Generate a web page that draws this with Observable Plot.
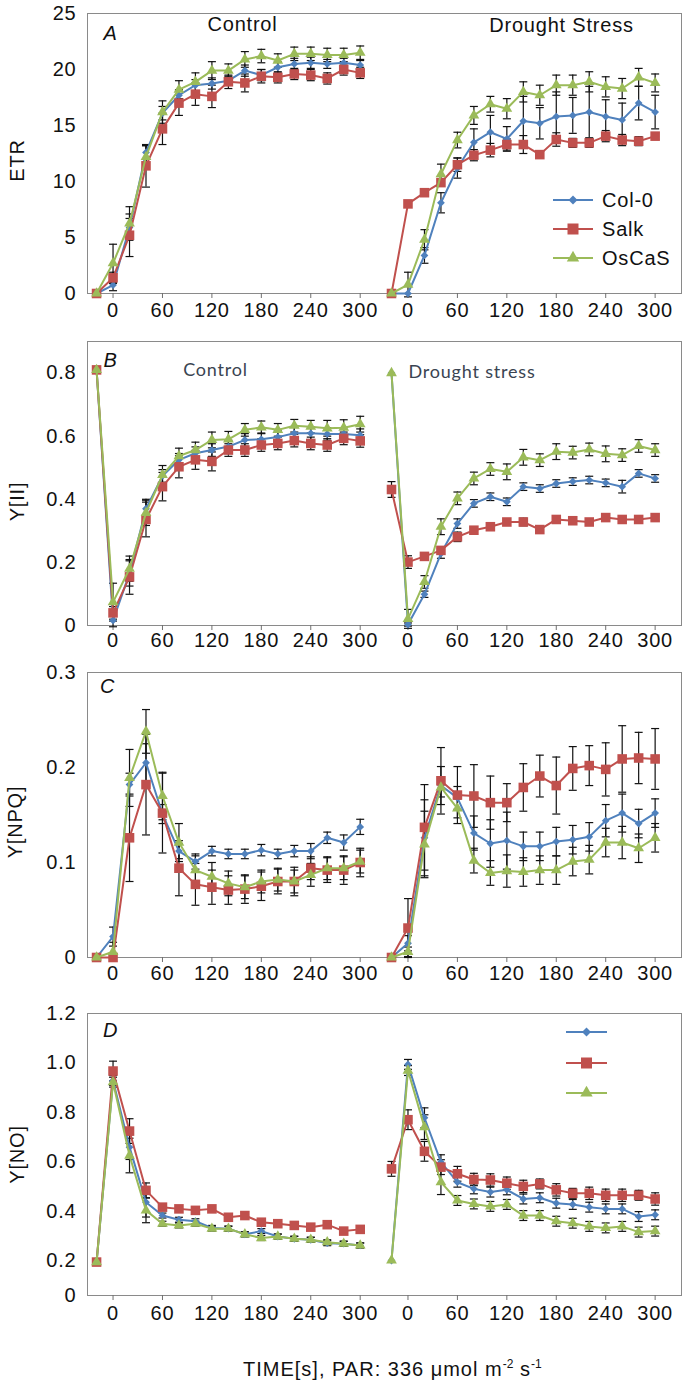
<!DOCTYPE html>
<html>
<head>
<meta charset="utf-8">
<script src="https://cdn.jsdelivr.net/npm/d3@7"></script>
<script src="https://cdn.jsdelivr.net/npm/@observablehq/plot@0.6"></script>
<style>
  html, body { margin: 0; padding: 0; background: #fff; }
  #root { position: relative; width: 686px; height: 1386px; font-family: "Liberation Sans", Arial, sans-serif; }
  #root svg { position: absolute; left: 0; }
  #caption { position: absolute; left: 243px; top: 1357px; font-size: 20px; letter-spacing: 1px; color: #111; white-space: nowrap; }
  #caption sup { font-size: 12px; letter-spacing: 0; }
</style>
</head>
<body>
<div id="root"></div>
<script>
// ---------------- data ----------------
const times = [-20, 0, 20, 40, 60, 80, 100, 120, 140, 160, 180, 200, 220, 240, 260, 280, 300];
const seriesNames = ["Col-0", "Salk", "OsCaS"];
const xTickLabels = [0, 60, 120, 180, 240, 300];

// A: ETR
const etrCtrlCol  = [0, 0.75, 5.9, 12.6, 16.1, 17.7, 18.6, 18.75, 19.0, 19.9, 19.5, 20.2, 20.5, 20.6, 20.5, 20.6, 20.4];
const etrCtrlSalk = [0, 1.4, 5.2, 11.4, 14.7, 17.0, 17.8, 17.6, 18.9, 18.8, 19.4, 19.3, 19.6, 19.5, 19.2, 20.0, 19.7];
const etrCtrlOs   = [0, 2.7, 6.25, 12.2, 16.2, 18.2, 18.9, 19.9, 19.9, 20.9, 21.2, 20.8, 21.4, 21.4, 21.3, 21.3, 21.5];
const etrCtrlColErr  = [0, 0.5, 0.8, 0.6, 0.6, 0.5, 0.5, 0.5, 0.4, 0.5, 0.5, 0.5, 0.5, 0.5, 0.4, 0.4, 0.4];
const etrCtrlSalkErr = [0, 0.5, 1.9, 1.9, 1.4, 1.1, 1.0, 1.0, 0.6, 0.8, 0.6, 0.5, 0.5, 0.5, 0.5, 0.5, 0.5];
const etrCtrlOsErr   = [0, 1.7, 1.5, 1.0, 1.0, 0.8, 0.8, 0.8, 0.6, 0.7, 0.6, 0.6, 0.6, 0.6, 0.6, 0.6, 0.6];
const etrDrCol  = [0, 0, 3.4, 8.1, 11.2, 13.5, 14.4, 13.8, 15.4, 15.2, 15.8, 15.9, 16.2, 15.8, 15.5, 17.0, 16.2];
const etrDrSalk = [0, 8.0, 9.0, 9.9, 11.5, 12.35, 12.8, 13.3, 13.3, 12.4, 13.75, 13.45, 13.45, 14.05, 13.7, 13.6, 14.05];
const etrDrOs   = [0, 0.8, 4.8, 10.65, 13.7, 15.9, 16.9, 16.5, 18.0, 17.7, 18.6, 18.6, 18.9, 18.45, 18.3, 19.3, 18.8];
const etrDrColErr  = [0, 0, 0.7, 0.9, 0.9, 1.2, 1.5, 1.1, 2.2, 1.4, 2.2, 1.6, 2.3, 1.5, 1.5, 1.5, 1.5];
const etrDrSalkErr = [0, 0.3, 0.3, 0.3, 0.6, 0.5, 0.6, 0.5, 0.8, 0.3, 0.6, 0.4, 0.4, 0.5, 0.5, 0.4, 0.3];
const etrDrOsErr   = [0, 1.1, 0.9, 0.9, 0.7, 0.8, 0.7, 0.9, 0.9, 0.9, 0.9, 0.9, 0.9, 0.9, 0.9, 0.8, 0.8];

// B: Y[II]
const y2CtrlCol  = [0.81, 0.016, 0.165, 0.37, 0.474, 0.525, 0.546, 0.556, 0.567, 0.588, 0.59, 0.597, 0.609, 0.609, 0.607, 0.607, 0.603];
const y2CtrlSalk = [0.81, 0.04, 0.154, 0.336, 0.44, 0.503, 0.525, 0.52, 0.556, 0.556, 0.572, 0.577, 0.586, 0.577, 0.572, 0.593, 0.585];
const y2CtrlOs   = [0.81, 0.074, 0.18, 0.357, 0.477, 0.537, 0.556, 0.588, 0.59, 0.62, 0.628, 0.62, 0.633, 0.63, 0.625, 0.627, 0.638];
const y2CtrlColErr  = [0, 0.02, 0.04, 0.03, 0.02, 0.02, 0.02, 0.02, 0.02, 0.02, 0.02, 0.02, 0.02, 0.02, 0.02, 0.02, 0.02];
const y2CtrlSalkErr = [0, 0.02, 0.055, 0.055, 0.045, 0.035, 0.03, 0.03, 0.02, 0.02, 0.02, 0.02, 0.02, 0.02, 0.02, 0.02, 0.02];
const y2CtrlOsErr   = [0, 0.06, 0.04, 0.04, 0.03, 0.025, 0.025, 0.025, 0.025, 0.02, 0.02, 0.02, 0.02, 0.02, 0.025, 0.025, 0.025];
const y2DrCol  = [0.8, 0.003, 0.099, 0.228, 0.323, 0.387, 0.408, 0.392, 0.44, 0.434, 0.45, 0.456, 0.461, 0.452, 0.44, 0.482, 0.466];
const y2DrSalk = [0.431, 0.201, 0.219, 0.238, 0.281, 0.302, 0.313, 0.328, 0.328, 0.304, 0.336, 0.332, 0.328, 0.342, 0.336, 0.336, 0.342];
const y2DrOs   = [0.8, 0.021, 0.138, 0.313, 0.403, 0.466, 0.496, 0.487, 0.533, 0.524, 0.551, 0.548, 0.558, 0.544, 0.54, 0.569, 0.556];
const y2DrColErr  = [0, 0.005, 0.01, 0.015, 0.015, 0.012, 0.012, 0.012, 0.012, 0.012, 0.012, 0.012, 0.012, 0.012, 0.02, 0.012, 0.012];
const y2DrSalkErr = [0.025, 0.02, 0.005, 0.005, 0.015, 0.01, 0.01, 0.01, 0.012, 0.01, 0.012, 0.008, 0.008, 0.012, 0.008, 0.008, 0.008];
const y2DrOsErr   = [0, 0.03, 0.02, 0.025, 0.02, 0.02, 0.02, 0.025, 0.025, 0.02, 0.025, 0.02, 0.02, 0.025, 0.02, 0.02, 0.02];

// C: Y[NPQ]
const npqCtrlCol  = [0, 0.022, 0.182, 0.205, 0.151, 0.112, 0.101, 0.112, 0.109, 0.109, 0.113, 0.109, 0.112, 0.112, 0.126, 0.121, 0.1375];
const npqCtrlSalk = [0, 0, 0.126, 0.182, 0.152, 0.094, 0.077, 0.074, 0.071, 0.072, 0.075, 0.08, 0.08, 0.094, 0.092, 0.092, 0.1];
const npqCtrlOs   = [0, 0.006, 0.189, 0.238, 0.17, 0.121, 0.092, 0.085, 0.078, 0.074, 0.08, 0.082, 0.08, 0.087, 0.094, 0.094, 0.101];
const npqCtrlColErr  = [0, 0.01, 0.012, 0.02, 0.01, 0.008, 0.008, 0.005, 0.005, 0.005, 0.006, 0.005, 0.006, 0.008, 0.006, 0.008, 0.008];
const npqCtrlSalkErr = [0, 0, 0.046, 0.053, 0.042, 0.029, 0.022, 0.018, 0.015, 0.015, 0.015, 0.013, 0.015, 0.012, 0.013, 0.015, 0.015];
const npqCtrlOsErr   = [0, 0.01, 0.03, 0.023, 0.025, 0.02, 0.015, 0.015, 0.013, 0.012, 0.012, 0.012, 0.012, 0.012, 0.012, 0.012, 0.012];
const npqDrCol  = [0, 0.015, 0.126, 0.181, 0.168, 0.131, 0.12, 0.123, 0.117, 0.117, 0.122, 0.124, 0.127, 0.144, 0.152, 0.141, 0.152];
const npqDrSalk = [0, 0.031, 0.137, 0.186, 0.171, 0.17, 0.163, 0.163, 0.179, 0.191, 0.181, 0.199, 0.202, 0.198, 0.209, 0.21, 0.209];
const npqDrOs   = [0, 0.006, 0.119, 0.179, 0.157, 0.102, 0.089, 0.091, 0.09, 0.092, 0.092, 0.101, 0.103, 0.121, 0.121, 0.115, 0.126];
const npqDrColErr  = [0, 0.008, 0.04, 0.02, 0.012, 0.018, 0.025, 0.03, 0.015, 0.015, 0.015, 0.015, 0.015, 0.017, 0.02, 0.015, 0.015];
const npqDrSalkErr = [0, 0.031, 0.045, 0.035, 0.03, 0.033, 0.028, 0.02, 0.025, 0.022, 0.03, 0.023, 0.021, 0.028, 0.035, 0.027, 0.032];
const npqDrOsErr   = [0, 0.005, 0.035, 0.01, 0.01, 0.013, 0.013, 0.017, 0.015, 0.015, 0.015, 0.015, 0.015, 0.015, 0.017, 0.015, 0.015];

// D: Y[NO]
const noCtrlCol  = [0.191, 0.929, 0.659, 0.436, 0.382, 0.365, 0.359, 0.332, 0.329, 0.306, 0.319, 0.297, 0.288, 0.284, 0.270, 0.268, 0.261];
const noCtrlSalk = [0.191, 0.967, 0.724, 0.484, 0.416, 0.409, 0.403, 0.409, 0.375, 0.382, 0.355, 0.349, 0.342, 0.335, 0.345, 0.319, 0.326];
const noCtrlOs   = [0.191, 0.922, 0.625, 0.403, 0.349, 0.342, 0.349, 0.329, 0.329, 0.306, 0.291, 0.297, 0.288, 0.284, 0.274, 0.268, 0.261];
const noCtrlColErr  = [0, 0.02, 0.05, 0.06, 0.01, 0.01, 0.01, 0.01, 0.01, 0.01, 0.01, 0.01, 0.01, 0.01, 0.01, 0.01, 0.01];
const noCtrlSalkErr = [0, 0.04, 0.05, 0.03, 0.01, 0.01, 0.01, 0.01, 0.01, 0.01, 0.01, 0.01, 0.01, 0.01, 0.01, 0.01, 0.01];
const noCtrlOsErr   = [0, 0.02, 0.07, 0.05, 0.01, 0.01, 0.01, 0.01, 0.01, 0.01, 0.01, 0.01, 0.01, 0.01, 0.01, 0.01, 0.01];
const noDrCol  = [0.2, 0.994, 0.778, 0.598, 0.517, 0.490, 0.477, 0.486, 0.449, 0.454, 0.432, 0.427, 0.416, 0.409, 0.409, 0.378, 0.385];
const noDrSalk = [0.571, 0.770, 0.642, 0.578, 0.551, 0.528, 0.526, 0.513, 0.500, 0.510, 0.486, 0.472, 0.472, 0.464, 0.464, 0.464, 0.449];
const noDrOs   = [0.2, 0.969, 0.740, 0.517, 0.443, 0.429, 0.419, 0.427, 0.382, 0.382, 0.359, 0.351, 0.338, 0.332, 0.338, 0.315, 0.319];
const noDrColErr  = [0, 0.02, 0.04, 0.03, 0.02, 0.02, 0.02, 0.02, 0.02, 0.02, 0.02, 0.02, 0.02, 0.02, 0.02, 0.02, 0.02];
const noDrSalkErr = [0.03, 0.04, 0.04, 0.03, 0.03, 0.025, 0.025, 0.025, 0.025, 0.02, 0.025, 0.02, 0.025, 0.025, 0.025, 0.02, 0.025];
const noDrOsErr   = [0, 0.02, 0.05, 0.05, 0.02, 0.02, 0.02, 0.02, 0.02, 0.02, 0.02, 0.02, 0.02, 0.02, 0.02, 0.02, 0.02];

// ---------------- styles / layout ----------------
const OFFSET = 358;              // drought block shift on the shared time axis
const colors = ["#4F81BD", "#C0504D", "#9BBB59"];
const symbols = ["diamond2", "square", "triangle"];
const radii = [3.5, 5.4, 4.0];
const FONT = "Liberation Sans, Arial, sans-serif";
const capSymbol = { draw(ctx, size) { const w = Math.sqrt(size / Math.PI); ctx.moveTo(-w, 0); ctx.lineTo(w, 0); } };
const decFmt = d => d === 0 ? "0" : d3.format(".1f")(d);
// panel D's original axis has a compressed first interval (0–0.2)
const LOW = 35 / 247;
const breakY = v => v <= 0.2 ? v * LOW / 0.2 : LOW + (v - 0.2);
const ident = v => v;

const panels = [
  { letter: "A", top: 0, height: 330, mt: 13, mb: 37, y: { domain: [0, 25] }, ticks: [0, 5, 10, 15, 20, 25], fmt: d => d, tpos: ident,
    label: "ETR", labelDx: -70, labelDy: 7, pad: 4, letterPos: [23, 20],
    ctrl: [etrCtrlCol, etrCtrlSalk, etrCtrlOs], ctrlErr: [etrCtrlColErr, etrCtrlSalkErr, etrCtrlOsErr],
    dr: [etrDrCol, etrDrSalk, etrDrOs], drErr: [etrDrColErr, etrDrSalkErr, etrDrOsErr] },
  { letter: "B", top: 330, height: 335, mt: 11, mb: 40, y: { domain: [0, 0.9] }, ticks: [0, 0.2, 0.4, 0.6, 0.8], fmt: decFmt, tpos: ident,
    label: "Y[II]", labelDx: -70, labelDy: 18, pad: 2, letterPos: [23, 19],
    ctrl: [y2CtrlCol, y2CtrlSalk, y2CtrlOs], ctrlErr: [y2CtrlColErr, y2CtrlSalkErr, y2CtrlOsErr],
    dr: [y2DrCol, y2DrSalk, y2DrOs], drErr: [y2DrColErr, y2DrSalkErr, y2DrOsErr] },
  { letter: "C", top: 665, height: 335, mt: 7, mb: 43, y: { domain: [0, 0.3] }, ticks: [0, 0.1, 0.2, 0.3], fmt: decFmt, tpos: ident,
    label: "Y[NPQ]", labelDx: -72, labelDy: 7, pad: 3, letterPos: [20, 14],
    ctrl: [npqCtrlCol, npqCtrlSalk, npqCtrlOs], ctrlErr: [npqCtrlColErr, npqCtrlSalkErr, npqCtrlOsErr],
    dr: [npqDrCol, npqDrSalk, npqDrOs], drErr: [npqDrColErr, npqDrSalkErr, npqDrOsErr] },
  { letter: "D", top: 1000, height: 335, mt: 13, mb: 40, y: { transform: breakY, domain: [0, breakY(1.2)] }, ticks: [0, 0.2, 0.4, 0.6, 0.8, 1.0, 1.2], fmt: decFmt, tpos: breakY,
    label: "Y[NO]", labelDx: -70, labelDy: 0, pad: 5, letterPos: [23, 17],
    ctrl: [noCtrlCol, noCtrlSalk, noCtrlOs], ctrlErr: [noCtrlColErr, noCtrlSalkErr, noCtrlOsErr],
    dr: [noDrCol, noDrSalk, noDrOs], drErr: [noDrColErr, noDrSalkErr, noDrOsErr] }
];

const xTicks = xTickLabels.concat(xTickLabels.map(t => t + OFFSET));
const root = document.getElementById("root");

for (const p of panels) {
  const rows = [];
  [[p.ctrl, p.ctrlErr, 0], [p.dr, p.drErr, 1]].forEach(([vals, errs, cond]) => {
    vals.forEach((arr, s) => arr.forEach((v, i) => rows.push({
      x: times[i] + cond * OFFSET, y: v, err: errs[s][i], s, key: s + "-" + cond
    })));
  });
  const errRows = rows.filter(d => d.err > 0);
  const yTickPos = p.ticks.map(p.tpos);
  const yTickFmt = t => p.fmt(p.ticks[yTickPos.findIndex(q => Math.abs(q - t) < 1e-9)]);

  const marks = [
    Plot.frame({ stroke: "#8a8a8a" }),
    Plot.axisX({ ticks: xTicks, tickFormat: d => d > 320 ? d - OFFSET : d, tickSize: 5, tickPadding: p.pad, stroke: "#707070", fill: "#111", label: null, fontSize: 20 }),
    Plot.axisY({ ticks: yTickPos, tickFormat: yTickFmt, tickSize: 0, tickPadding: 11, label: null, fill: "#111", fontSize: 20 }),
    Plot.ruleX(errRows, { x: "x", y1: d => d.y - d.err, y2: d => d.y + d.err, stroke: "#111", strokeWidth: 1.2 }),
    Plot.dot(errRows, { x: "x", y: d => d.y + d.err, symbol: capSymbol, r: 4, stroke: "#111", strokeWidth: 1.2, fill: "none" }),
    Plot.dot(errRows, { x: "x", y: d => d.y - d.err, symbol: capSymbol, r: 4, stroke: "#111", strokeWidth: 1.2, fill: "none" })
  ];
  for (let s = 0; s < 3; s++) {
    const sr = rows.filter(d => d.s === s);
    marks.push(Plot.line(sr, { x: "x", y: "y", z: "key", stroke: colors[s], strokeWidth: 2 }));
    marks.push(Plot.dot(sr, { x: "x", y: "y", symbol: symbols[s], r: radii[s], fill: colors[s], stroke: "none" }));
  }
  marks.push(Plot.text([p.letter], { frameAnchor: "top-left", dx: p.letterPos[0], dy: p.letterPos[1], textAnchor: "middle", lineAnchor: "middle", fontStyle: "italic", fontSize: 20, fill: "#111" }));
  marks.push(Plot.text([p.label], { frameAnchor: "left", rotate: -90, dx: p.labelDx, dy: p.labelDy, textAnchor: "middle", lineAnchor: "middle", fontSize: 20, fill: "#111" }));

  if (p.letter === "A") {
    marks.push(Plot.text(["Control"], { frameAnchor: "top-left", dx: 155, dy: 11, textAnchor: "middle", lineAnchor: "middle", fontSize: 20, fill: "#111" }));
    marks.push(Plot.text(["Drought Stress"], { frameAnchor: "top-left", dx: 474, dy: 12, textAnchor: "middle", lineAnchor: "middle", fontSize: 20, fill: "#111" }));
  }
  if (p.letter === "B") {
    marks.push(Plot.text(["Control"], { frameAnchor: "top-left", dx: 128, dy: 29, textAnchor: "middle", lineAnchor: "middle", fontSize: 18, fontFamily: "Lato, Noto Sans, sans-serif", fill: "#3a4452" }));
    marks.push(Plot.text(["Drought stress"], { frameAnchor: "top-left", dx: 321, dy: 31, textAnchor: "start", lineAnchor: "middle", fontSize: 18, fontFamily: "Lato, Noto Sans, sans-serif", fill: "#3a4452" }));
  }

  const svg = Plot.plot({
    width: 686, height: p.height,
    marginTop: p.mt, marginBottom: p.mb, marginLeft: 87, marginRight: 5,
    x: { domain: [-31, 690] },
    y: p.y,
    style: { fontFamily: FONT, fontSize: "20px", letterSpacing: "0.8px", background: "transparent", overflow: "visible" },
    marks
  });
  svg.style.top = p.top + "px";
  root.appendChild(svg);
}

// legends (drawn in page pixel space)
const leg = d3.select(root).append("svg")
  .attr("width", 686).attr("height", 1386)
  .style("top", "0px").style("pointer-events", "none");
const d3sym = { diamond2: d3.symbolDiamond2, square: d3.symbolSquare, triangle: d3.symbolTriangle };
function legend(x0, x1, ys, withText) {
  ys.forEach((y, s) => {
    leg.append("line").attr("x1", x0).attr("x2", x1).attr("y1", y).attr("y2", y)
      .attr("stroke", colors[s]).attr("stroke-width", 2.2);
    leg.append("path").attr("transform", `translate(${(x0 + x1) / 2},${y})`)
      .attr("d", d3.symbol(d3sym[symbols[s]], Math.PI * (radii[s] * 1.15) ** 2)())
      .attr("fill", colors[s]);
    if (withText) leg.append("text").attr("x", x1 + 9).attr("y", y).attr("dy", "0.36em")
      .attr("font-family", FONT).attr("font-size", 20).attr("letter-spacing", "0.8px").attr("fill", "#111").text(seriesNames[s]);
  });
}
legend(553, 593, [200, 229, 258], true);
legend(566, 607, [1032, 1063, 1093], false);

const cap = document.createElement("div");
cap.id = "caption";
cap.innerHTML = "TIME[s], PAR: 336 μmol m<sup>-2</sup> s<sup>-1</sup>";
root.appendChild(cap);
</script>
</body>
</html>
